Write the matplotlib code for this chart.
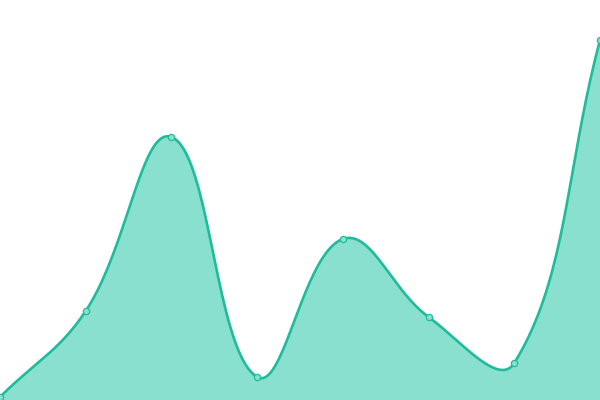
import numpy as np
import matplotlib
matplotlib.use("Agg")
import matplotlib.pyplot as plt

# values (0 = bottom edge, 400 = top edge)
xs = [0, 1, 2, 3, 4, 5, 6, 7]
values = [3, 89, 263, 23, 161, 83, 37, 360]

LINE = "#1fbc9c"
FILL = "#8ae0cf"
TENSION = 0.4


def smooth(x, y, sx, sy, steps=40):
    # tension spline (distance weighted control points), done in pixel units
    p = np.column_stack([np.asarray(x, float) * sx, np.asarray(y, float) * sy])
    n = len(p)
    c_prev, c_next = [], []
    for i in range(n):
        prv = p[max(i - 1, 0)]
        nxt = p[min(i + 1, n - 1)]
        d01 = np.hypot(*(p[i] - prv))
        d12 = np.hypot(*(nxt - p[i]))
        tot = d01 + d12
        s01 = d01 / tot if tot else 0
        s12 = d12 / tot if tot else 0
        c_prev.append(p[i] - TENSION * s01 * (nxt - prv))
        c_next.append(p[i] + TENSION * s12 * (nxt - prv))
    pts = []
    for i in range(n - 1):
        t = np.linspace(0, 1, steps, endpoint=(i == n - 2))[:, None]
        u = 1 - t
        pts.append(u**3 * p[i] + 3 * u**2 * t * c_next[i]
                   + 3 * u * t**2 * c_prev[i + 1] + t**3 * p[i + 1])
    pts = np.vstack(pts)
    return pts[:, 0] / sx, pts[:, 1] / sy


fig = plt.figure(figsize=(6, 4), dpi=100)
ax = fig.add_axes([0, 0, 1, 1])
cx, cy = smooth(xs, values, 600 / 7, 1.0)
ax.fill_between(cx, cy, 0, color=FILL, lw=0)
ax.plot(cx, cy, color=LINE, lw=1.9, solid_capstyle="round")
ax.plot(xs, values, "o", ms=4.5, mfc=FILL, mec=LINE, mew=0.9, clip_on=False)
ax.set_xlim(0, 7)
ax.set_ylim(0, 400)
ax.axis("off")
fig.savefig("out.png", dpi=100)
